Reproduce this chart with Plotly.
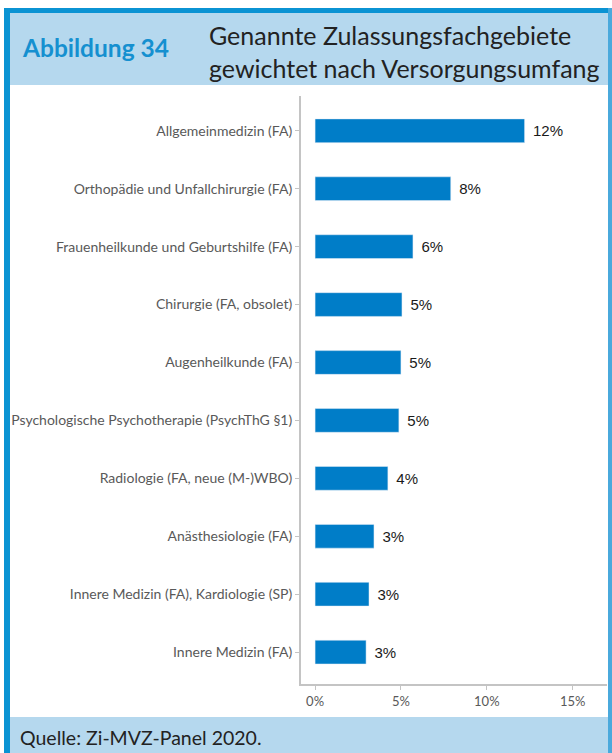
import plotly.graph_objects as go

# ---------------------------------------------------------------------------
# Data
# ---------------------------------------------------------------------------
categories = [
    'Allgemeinmedizin (FA)',
    'Orthopädie und Unfallchirurgie (FA)',
    'Frauenheilkunde und Geburtshilfe (FA)',
    'Chirurgie (FA, obsolet)',
    'Augenheilkunde (FA)',
    'Psychologische Psychotherapie (PsychThG §1)',
    'Radiologie (FA, neue (M-)WBO)',
    'Anästhesiologie (FA)',
    'Innere Medizin (FA), Kardiologie (SP)',
    'Innere Medizin (FA)',
]
shares = [12.2, 7.9, 5.7, 5.06, 5.0, 4.88, 4.24, 3.43, 3.14, 2.97]  # percent
tick_values = [0, 5, 10, 15]
tick_labels = ['0%', '5%', '10%', '15%']

BAR_COLOR = '#007dc8'
BAND_COLOR = '#b5d8ee'
FRAME_COLOR = '#0b93d3'
AXIS_GRAY = '#c4c4c4'
LABEL_GRAY = '#595959'

# ---------------------------------------------------------------------------
# Page geometry (pixels) -> paper coordinates
# ---------------------------------------------------------------------------
W, H = 612, 753
PL, PR, PT, PB = 301, 607, 96, 684   # plot area edges in pixels


def px_x(px):
    return (px - PL) / (PR - PL)


def px_y(py):
    return (PB - py) / (PB - PT)


def rect(x0, y0, x1, y1, color):
    return dict(type='rect', xref='paper', yref='paper', layer='below',
                x0=px_x(x0), x1=px_x(x1), y0=px_y(y1), y1=px_y(y0),
                fillcolor=color, line_width=0)


def label(text, x, y, size, color, **kw):
    return dict(text=text, xref='paper', yref='paper', x=px_x(x), y=px_y(y),
                xanchor='left', yanchor='middle', showarrow=False,
                font=dict(family='Lato, Open Sans', size=size, color=color), **kw)


fig = go.Figure()
fig.add_trace(go.Bar(
    x=shares, y=categories, orientation='h',
    marker_color=BAR_COLOR, width=0.41,
    texttemplate='\u00a0\u200a%{x:.0f}%', textposition='outside',
    outsidetextfont=dict(family='Liberation Sans, Arial', size=15, color='#1a1a1a'),
    cliponaxis=False, hoverinfo='skip',
))

shapes = [
    rect(10, 13, 609, 85, BAND_COLOR),       # header band
    rect(10, 717, 609, 753, BAND_COLOR),     # footer band
    rect(4, 8, 10, 753, FRAME_COLOR),        # left frame
    rect(4, 8, 612, 13, FRAME_COLOR),        # top frame
    rect(608, 8, 612, 753, '#4aa9dc'),       # right frame
]

annotations = [
    label('<b>Abbildung 34</b>', 20, 47, 24.5, '#1590d0'),
    label('Genannte Zulassungsfachgebiete<br>gewichtet nach Versorgungsumfang',
          207, 51, 25, '#222222', align='left'),
    label('Quelle: Zi-MVZ-Panel 2020.', 18, 737, 19.5, '#222222'),
]

fig.update_layout(
    width=W, height=H,
    margin=dict(l=PL, r=W - PR, t=PT, b=H - PB, pad=0),
    paper_bgcolor='white', plot_bgcolor='white',
    showlegend=False,
    shapes=shapes, annotations=annotations,
    xaxis=dict(
        range=[-0.82, 17.0], tickvals=tick_values, ticktext=tick_labels,
        showgrid=False, zeroline=False,
        showline=True, linecolor=AXIS_GRAY, linewidth=2,
        ticks='outside', ticklen=4, tickcolor=AXIS_GRAY,
        tickfont=dict(family='Lato, Open Sans', size=13, color=LABEL_GRAY),
    ),
    yaxis=dict(
        type='category', categoryorder='array', categoryarray=categories,
        range=[9.55, -0.6],
        showgrid=False, zeroline=False,
        showline=True, linecolor=AXIS_GRAY, linewidth=2,
        ticks='outside', ticklen=4, tickcolor=AXIS_GRAY,
        tickfont=dict(family='Lato, Open Sans', size=14, color=LABEL_GRAY),
    ),
)

# drop the browser's default body margin so the figure fills the window
fig.write_html('out.html', config={'displayModeBar': False},
               post_script="document.body.style.margin = '0';")
